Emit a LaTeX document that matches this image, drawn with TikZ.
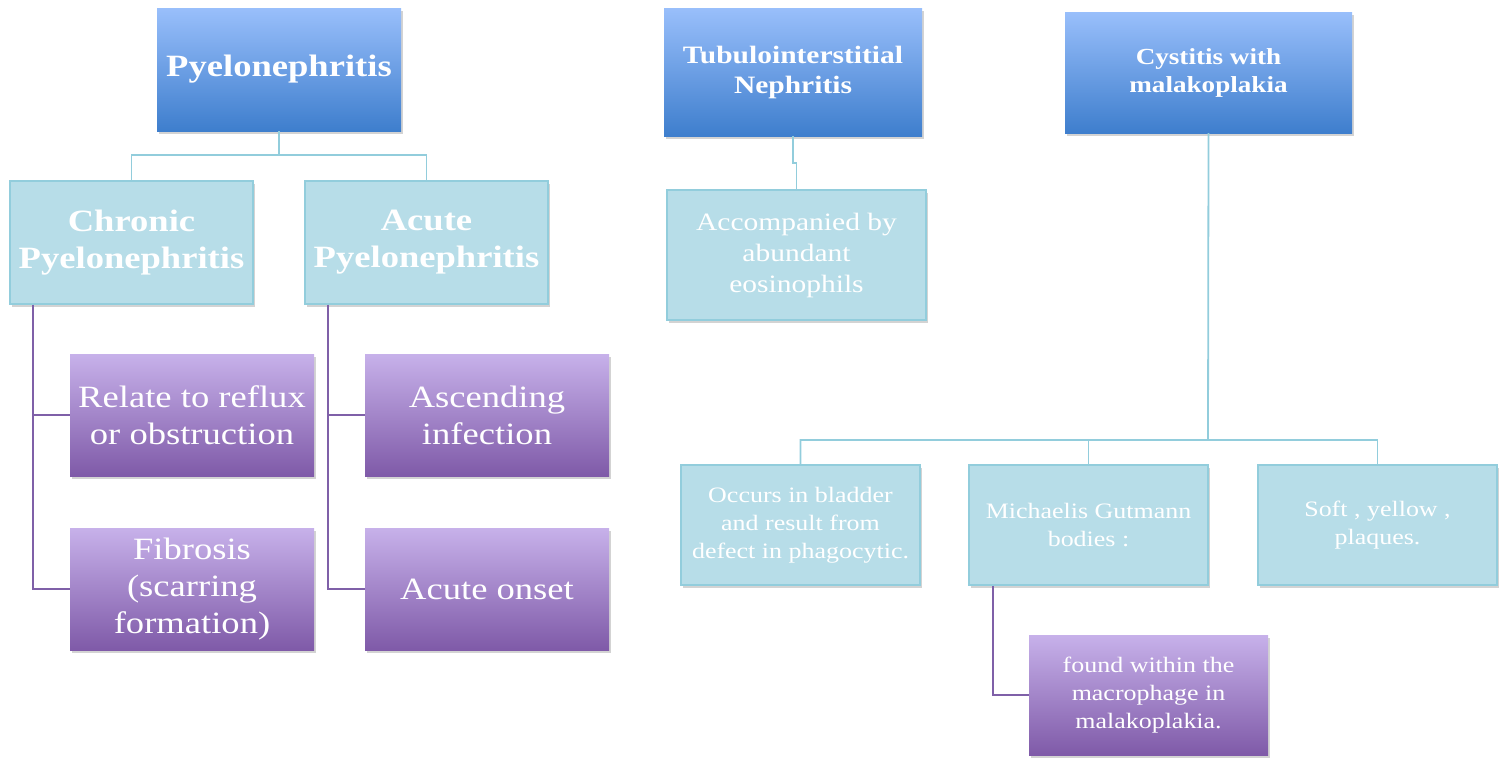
\documentclass[tikz,border=0pt]{standalone}
\usepackage{fontspec}
\setmainfont{Liberation Serif}[FakeStretch=1.18]
\usetikzlibrary{positioning,shadows}

\definecolor{headtop}{HTML}{99BFFB}
\definecolor{headbot}{HTML}{3E7ECD}
\definecolor{subfill}{HTML}{B7DDE8}
\definecolor{subline}{HTML}{92CDDC}
\definecolor{leaftop}{HTML}{C7B1EA}
\definecolor{leafbot}{HTML}{7F5AA8}
\definecolor{leafline}{HTML}{7F60A8}

\begin{document}
\begin{tikzpicture}[
    x=1pt, y=-1pt,
    align=center,
    text=white,
    head/.style={rectangle, inner sep=2pt, top color=headtop, bottom color=headbot,
      drop shadow={shadow xshift=2pt, shadow yshift=-3pt, opacity=.35}},
    sub/.style={rectangle, inner sep=2pt, fill=subfill, draw=subline, line width=1.5pt,
      drop shadow={shadow xshift=2pt, shadow yshift=-3pt, opacity=.35}},
    leaf/.style={rectangle, inner sep=2pt, top color=leaftop, bottom color=leafbot,
      drop shadow={shadow xshift=2pt, shadow yshift=-3pt, opacity=.35}},
    big/.style={font=\fontsize{31}{37}\selectfont},
    mid/.style={font=\fontsize{25}{31}\selectfont},
    small/.style={font=\fontsize{22}{28}\selectfont},
    bline/.style={subline, line width=1.8pt},
    pline/.style={leafline, line width=1.8pt}
  ]
  \useasboundingbox (0,0) rectangle (1506,758);

  % pyelonephritis branch

  \node (pyelo)    [head, big, minimum width=244pt, minimum height=123pt] at (279,69.5)
                   {\bfseries Pyelonephritis};
  \node (chronic)  [sub, big, minimum width=243pt, minimum height=123pt] at (131.5,242.5)
                   {\bfseries Chronic\\ \bfseries Pyelonephritis};
  \node (acute)    [sub, big, minimum width=243pt, minimum height=123pt] at (426.5,242.5)
                   {\bfseries Acute\\ \bfseries Pyelonephritis};
  \node (reflux)   [leaf, big, minimum width=244pt, minimum height=122pt] at (192,415)
                   {Relate to reflux\\ or obstruction};
  \node (fibrosis) [leaf, big, minimum width=244pt, minimum height=122pt] at (192,589)
                   {Fibrosis\\ (scarring\\ formation)};
  \node (ascend)   [leaf, big, minimum width=244pt, minimum height=122pt] at (487,415)
                   {Ascending\\ infection};
  \node (onset)    [leaf, big, minimum width=244pt, minimum height=122pt] at (487,589)
                   {Acute onset};

  % tubulointerstitial branch

  \node (tubulo)   [head, font=\fontsize{25}{30}\selectfont, minimum width=258pt, minimum height=128pt] at (793,72)
                   {\bfseries Tubulointerstitial\\ \bfseries Nephritis};
  \node (eosino)   [sub, mid, minimum width=259pt, minimum height=130pt] at (796.5,255)
                   {Accompanied by\\ abundant\\ eosinophils};

  % cystitis branch

  \node (cystitis) [head, font=\fontsize{23}{28}\selectfont, minimum width=287pt, minimum height=121pt] at (1208.5,72.5)
                   {\bfseries Cystitis with\\ \bfseries malakoplakia};
  \node (bladder)  [sub, small, minimum width=239pt, minimum height=120pt] at (800.5,525)
                   {Occurs in bladder\\ and result from\\ defect in phagocytic.};
  \node (gutmann)  [sub, small, minimum width=239pt, minimum height=120pt] at (1088.5,525)
                   {Michaelis Gutmann\\ bodies :};
  \node (plaques)  [sub, small, minimum width=239pt, minimum height=120pt] at (1377.5,525)
                   {Soft , yellow ,\\ plaques.};
  \node (macro)    [leaf, small, minimum width=239pt, minimum height=120pt] at (1148.5,695)
                   {found within the\\ macrophage in\\ malakoplakia.};

  % connectors

  \coordinate (pyfork)  at (279,155);
  \coordinate (cysfork) at (1208,440);

  \draw[bline] (pyelo.south) -- (pyfork) -| (chronic.north);
  \draw[bline] (pyfork) -| (acute.north);

  \draw[pline] ([xshift=24pt]chronic.south west) |- (reflux.west);
  \draw[pline] ([xshift=24pt]chronic.south west) |- (fibrosis.west);
  \draw[pline] ([xshift=24pt]acute.south west) |- (ascend.west);
  \draw[pline] ([xshift=24pt]acute.south west) |- (onset.west);

  \draw[bline] (tubulo.south) -- ++(0,27) -| (eosino.north);

  \draw[bline] (cystitis.south) -- (cysfork) -| (bladder.north);
  \draw[bline] (cysfork) -| (gutmann.north);
  \draw[bline] (cysfork) -| (plaques.north);

  \draw[pline] ([xshift=25pt]gutmann.south west) |- (macro.west);

\end{tikzpicture}
\end{document}
